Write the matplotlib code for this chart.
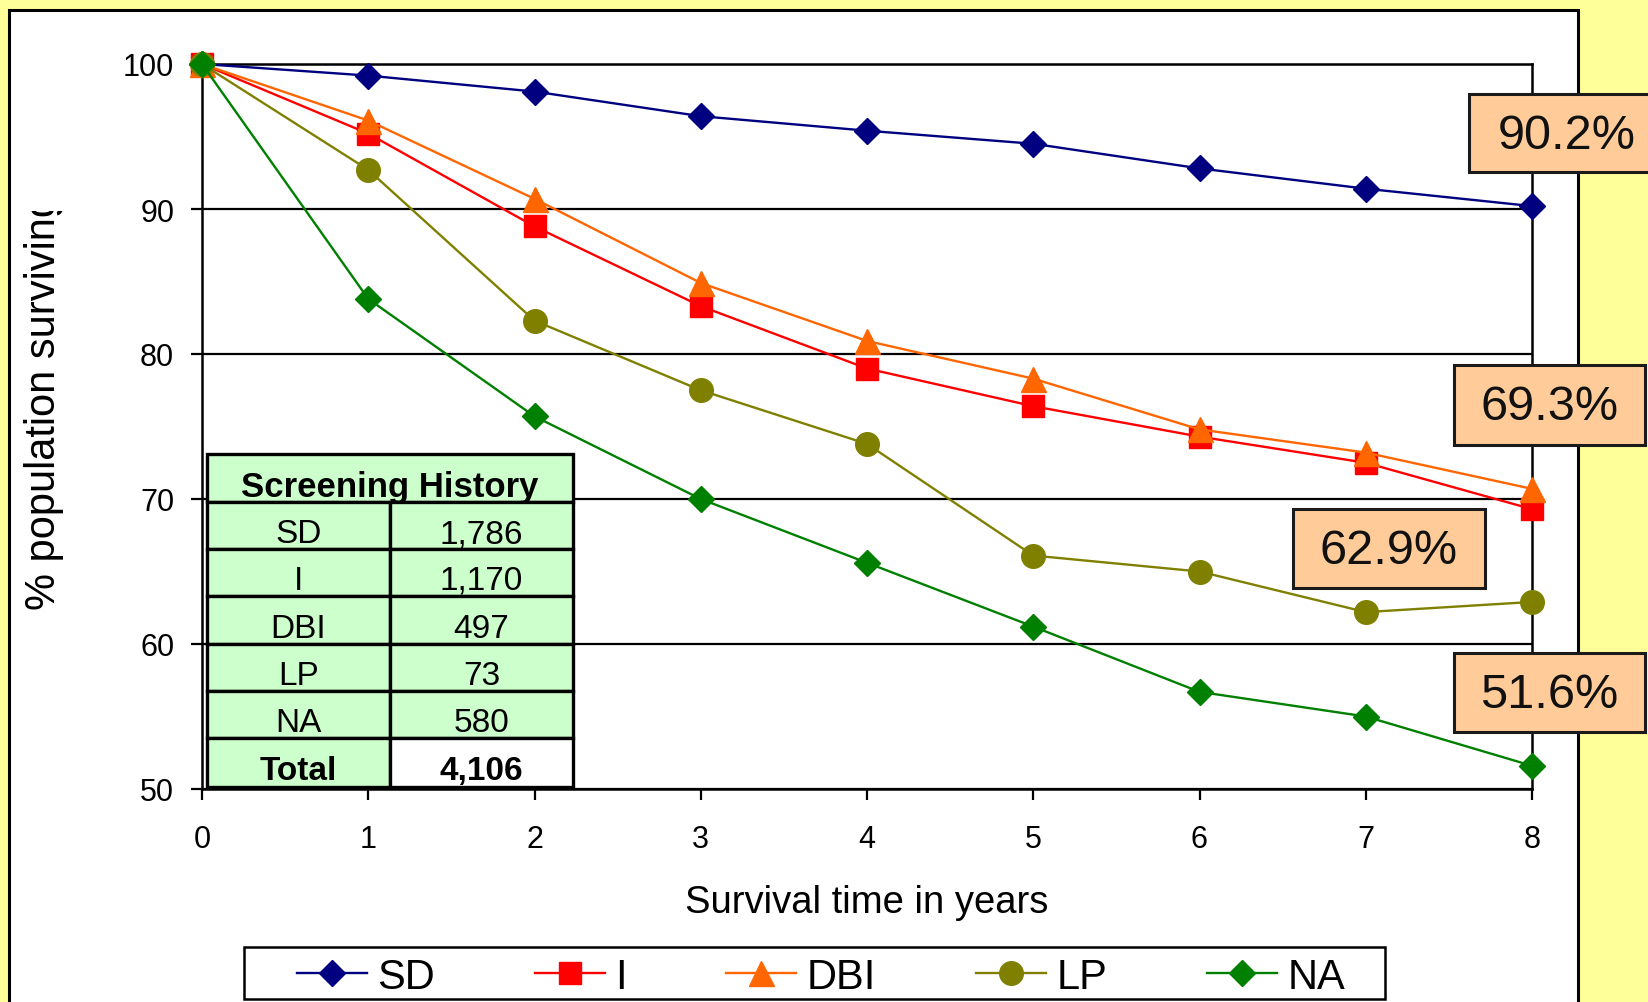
import matplotlib
matplotlib.use('Agg')
import matplotlib.pyplot as plt
from matplotlib.patches import Rectangle
from matplotlib.lines import Line2D

plt.rcParams['font.family'] = ['Liberation Sans', 'DejaVu Sans']

# data
years = [0, 1, 2, 3, 4, 5, 6, 7, 8]
sd = [100, 99.2, 98.1, 96.4, 95.4, 94.5, 92.8, 91.4, 90.2]
i_hist = [100, 95.2, 88.8, 83.3, 79.0, 76.4, 74.3, 72.5, 69.3]
dbi = [100, 96.1, 90.7, 84.9, 80.9, 78.3, 74.8, 73.2, 70.7]
lp = [100, 92.7, 82.3, 77.5, 73.8, 66.1, 65.0, 62.2, 62.9]
na = [100, 83.8, 75.7, 70.0, 65.6, 61.2, 56.7, 55.0, 51.6]

series_names = ['SD', 'I', 'DBI', 'LP', 'NA']
series_values = [sd, i_hist, dbi, lp, na]
series_colors = ['#000080', '#FF0000', '#FF6600', '#808000', '#008000']
series_markers = ['D', 's', '^', 'o', 'D']
marker_sizes = [13.5, 16, 18, 17, 13.5]

table_rows = ['SD', 'I', 'DBI', 'LP', 'NA']
table_counts = ['1,786', '1,170', '497', '73', '580']
table_total = '4,106'

W, H = 1648, 1003
fig = plt.figure(figsize=(W / 100, H / 100), dpi=100, facecolor='#FFFF99')


def px_axes(x0, y0, x1, y1, **kw):
    # axes from pixel box (top-left origin)
    return fig.add_axes([x0 / W, 1 - y1 / H, (x1 - x0) / W, (y1 - y0) / H], **kw)


# white panel with black border
bg = fig.add_axes([0, 0, 1, 1], zorder=0)
bg.set_xlim(0, W)
bg.set_ylim(H, 0)
bg.axis('off')
bg.add_patch(Rectangle((9, 11), 1569, 1010, facecolor='white',
                       edgecolor='black', lw=2.2, clip_on=False))

# main plot
ax = px_axes(202, 65, 1532, 790, zorder=1)
ax.set_facecolor('white')
for name, vals, c, m, ms in zip(series_names, series_values, series_colors,
                                series_markers, marker_sizes):
    ax.plot(years, vals, color=c, lw=1.7, marker=m, ms=ms, mec=c, mfc=c,
            label=name, clip_on=False, zorder=3)

ax.set_xlim(0, 8)
ax.set_ylim(50, 100)
ax.set_xticks(years)
ax.set_yticks([50, 60, 70, 80, 90, 100])
ax.grid(axis='y', color='black', lw=1.6)
ax.set_axisbelow(True)
for s in ax.spines.values():
    s.set_color('black')
    s.set_linewidth(1.8)
ax.tick_params(direction='out', length=8, width=1.6, color='black',
               labelsize=22, pad=12)
ax.tick_params(axis='x', pad=17)
ax.set_xlabel('Survival time in years', fontsize=27.5, labelpad=22)

# y label, cut off at the top like the original
fig.text(44 / W, 1 - 610 / H, '% population surviving', rotation=90,
         ha='center', va='bottom', fontsize=30, zorder=1.5)

# overlay: table and value boxes
ov = fig.add_axes([0, 0, 1, 1], zorder=2)
ov.set_xlim(0, W)
ov.set_ylim(H, 0)
ov.axis('off')
ov.patch.set_alpha(0)
ov.add_patch(Rectangle((12, 120), 90, 92, facecolor='white', lw=0))

tx0, tsplit, tx1 = 207, 390, 573
row_edges = [455, 503, 550, 597, 645, 692, 739, 788]
green = '#CCFFCC'
ov.add_patch(Rectangle((tx0, row_edges[0]), tx1 - tx0, row_edges[1] - row_edges[0],
                       facecolor=green, edgecolor='black', lw=2.4))
ov.text((tx0 + tx1) / 2, (row_edges[0] + row_edges[1]) / 2 + 9, 'Screening History',
        ha='center', va='center', fontsize=25, fontweight='bold')
labels = table_rows + ['Total']
counts = table_counts + [table_total]
for k, (lab, cnt) in enumerate(zip(labels, counts)):
    top, bot = row_edges[k + 1], row_edges[k + 2]
    bold = lab == 'Total'
    ov.add_patch(Rectangle((tx0, top), tsplit - tx0, bot - top, facecolor=green,
                           edgecolor='black', lw=2.4))
    ov.add_patch(Rectangle((tsplit, top), tx1 - tsplit, bot - top,
                           facecolor='white' if bold else green,
                           edgecolor='black', lw=2.4))
    fw = 'bold' if bold else 'normal'
    ov.text((tx0 + tsplit) / 2, (top + bot) / 2 + 8, lab, ha='center', va='center',
            fontsize=24, fontweight=fw)
    ov.text((tsplit + tx1) / 2, (top + bot) / 2 + 8, cnt, ha='center', va='center',
            fontsize=24, fontweight=fw)

# end-value boxes
boxes = [(1469, 95, 1665, 173, sd[-1]),
         (1454, 366, 1645, 446, i_hist[-1]),
         (1293, 510, 1485, 589, lp[-1]),
         (1454, 654, 1645, 733, na[-1])]
for x0, y0, x1, y1, v in boxes:
    ov.add_patch(Rectangle((x0, y0), x1 - x0, y1 - y0, facecolor='#FFCC99',
                           edgecolor='#1a1a1a', lw=2.2, clip_on=False))
    ov.text((x0 + x1) / 2, (y0 + y1) / 2 + 2, f'{v:.1f}%', ha='center',
            va='center', fontsize=35, color='#111111')

# legend: frame drawn by hand, entries spread across it
ov.add_patch(Rectangle((244, 948), 1385 - 244, 52, facecolor='white',
                       edgecolor='black', lw=1.8))
handles = [Line2D([], [], color=c, lw=1.7, marker=m, ms=ms, mec=c, mfc=c)
           for c, m, ms in zip(series_colors, series_markers, marker_sizes)]
leg = fig.legend(handles, series_names, loc='center',
                 bbox_to_anchor=(297 / W, 1 - 978 / H, (1345 - 297) / W, 0.0),
                 ncol=5, mode='expand', fontsize=30, frameon=False,
                 borderpad=0, handlelength=1.68, handletextpad=0.25,
                 borderaxespad=0)

fig.savefig('out.png', dpi=100, facecolor=fig.get_facecolor())
